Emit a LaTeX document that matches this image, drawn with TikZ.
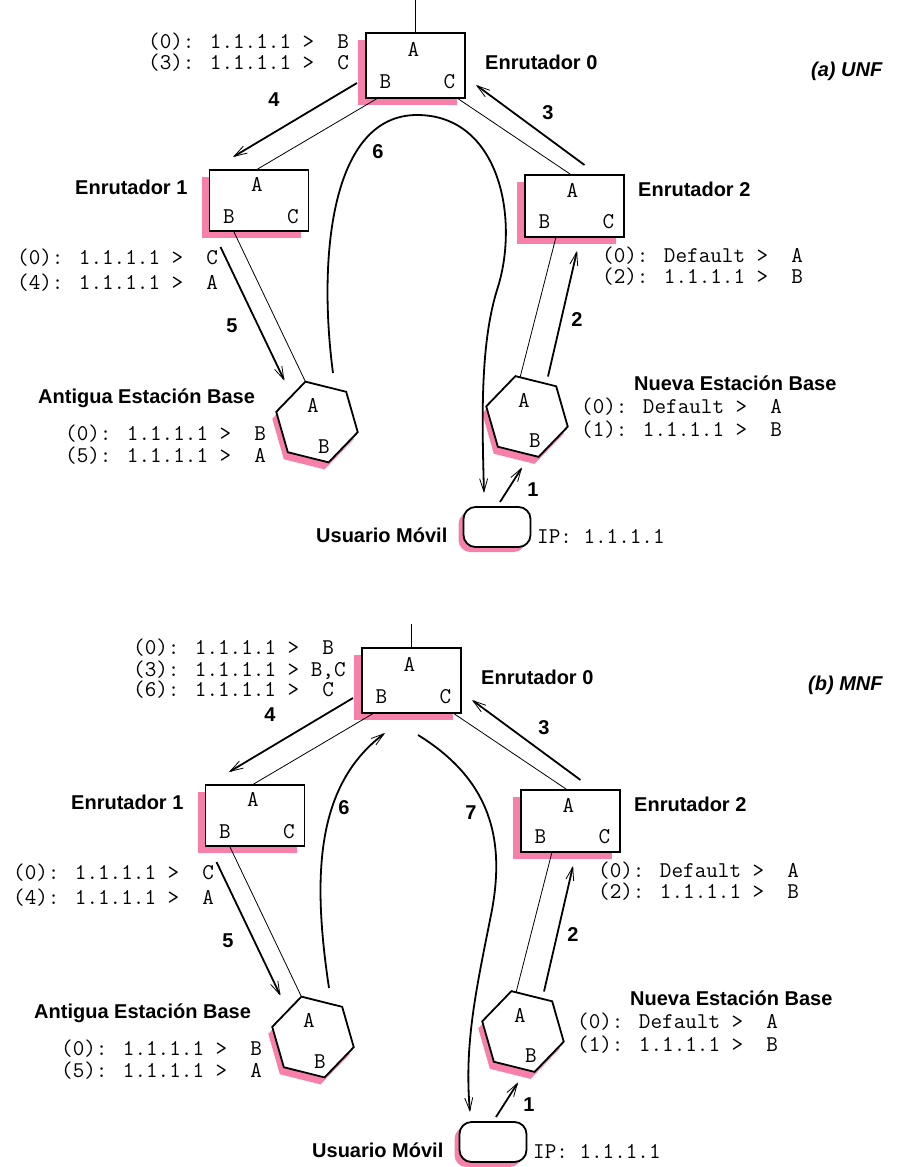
\documentclass[tikz,border=0pt]{standalone}
\usepackage{fontspec}
\usetikzlibrary{calc,shapes.geometric,arrows.meta}
\newfontfamily\labelfont{Liberation Sans}
\definecolor{shadowpink}{RGB}{246,128,170}

\tikzset{
  router/.style={draw, line width=1.8pt, fill=white, minimum width=99pt,
    minimum height=63pt, inner sep=0pt, outer sep=0pt,
    preaction={fill=shadowpink, transform canvas={xshift=-8pt, yshift=-7pt}}},
  station/.style={regular polygon, regular polygon sides=6,
    shape border rotate=-14, draw, line width=1.8pt, fill=white,
    minimum size=84pt, inner sep=0pt, outer sep=0pt,
    preaction={fill=shadowpink, transform canvas={xshift=-4pt, yshift=-7pt}}},
  mobile/.style={draw, line width=1.8pt, fill=white, rounded corners=12pt,
    minimum width=67pt, minimum height=40pt, inner sep=0pt, outer sep=0pt,
    preaction={fill=shadowpink, transform canvas={xshift=-5pt, yshift=-5pt}}},
  portlbl/.style={font=\ttfamily\fontsize{22.5pt}{25pt}\selectfont, inner sep=0pt},
  rtable/.style={font=\ttfamily\fontsize{22.5pt}{25pt}\selectfont, anchor=west, inner sep=0pt},
  tag/.style={font=\labelfont\bfseries\fontsize{20pt}{24pt}\selectfont, anchor=west, inner sep=0pt},
  paneltitle/.style={font=\labelfont\bfseries\itshape\fontsize{20pt}{24pt}\selectfont, anchor=west, inner sep=0pt},
  stepnum/.style={font=\labelfont\bfseries\fontsize{20pt}{24pt}\selectfont, inner sep=0pt},
  thinlink/.style={line width=0.8pt},
  flowarrow/.style={line width=1.8pt, -{Straight Barb[length=13pt, width=8pt, line width=0.8pt]}},
}

% Routers, base stations, mobile user and the links shared by both scenarios
\newcommand\networkpanel{%
  \node[router, minimum height=65pt] (r0) at (415.5,65.5) {};
  \node[router, minimum height=61pt] (r1) at (259,200.5) {};
  \node[router, minimum height=62pt] (r2) at (574.5,206) {};
  \foreach \rt in {r0,r1,r2} {
    \node[portlbl] (\rt a) at ($(\rt)+(-2,-16)$) {A};
    \node[portlbl] (\rt b) at ($(\rt)+(-30,16)$) {B};
    \node[portlbl] (\rt c) at ($(\rt)+(34,16)$) {C};
  }
  \node[station] (obs) at (317,422) {};
  \node[portlbl] (obsa) at ($(obs)+(-4,-17)$) {A};
  \node[portlbl] (obsb) at ($(obs)+(7,25)$) {B};
  \node[station] (nbs) at (527,416.5) {};
  \node[portlbl] (nbsa) at ($(nbs)+(-3,-16)$) {A};
  \node[portlbl] (nbsb) at ($(nbs)+(8,24)$) {B};
  \node[mobile] (mu) at (497,527) {};
  % names
  \node[tag] (r0name) at (485,62) {Enrutador 0};
  \node[tag] (r1name) at (75,187) {Enrutador 1};
  \node[tag] (r2name) at (638,189) {Enrutador 2};
  \node[tag] (obsname) at (38,398) {Antigua Estación Base};
  \node[tag] (nbsname) at (634,383) {Nueva Estación Base};
  \node[tag] (muname) at (316,535) {Usuario Móvil};
  % forwarding tables
  \node[rtable] (r1t0) at (17,258) {(0): 1.1.1.1 >~~C};
  \node[rtable] (r1t4) at (17,283) {(4): 1.1.1.1 >~~A};
  \node[rtable] (r2t0) at (602,256) {(0): Default >~~A};
  \node[rtable] (r2t2) at (602,277) {(2): 1.1.1.1 >~~B};
  \node[rtable] (obst0) at (65,434) {(0): 1.1.1.1 >~~B};
  \node[rtable] (obst5) at (65,456) {(5): 1.1.1.1 >~~A};
  \node[rtable] (nbst0) at (581,407) {(0): Default >~~A};
  \node[rtable] (nbst1) at (581,430) {(1): 1.1.1.1 >~~B};
  \node[rtable] (muip) at (537,536) {IP: 1.1.1.1};
  % wired links
  \draw[thinlink] ($(r0.south west)+(12,0)$) -- ($(r1.north)+(-3,0)$);
  \draw[thinlink] ($(r0.south east)+(-8,0)$) -- ($(r2.north)+(-3,0)$);
  \draw[thinlink] ($(r1.south west)+(24,0)$) -- (obs.106);
  \draw[thinlink] ($(r2.south west)+(31,0)$) -- (nbs.100);
  % signalling steps
  \draw[flowarrow] ($(mu.north)+(3,-5)$) -- ($(nbs)+(-5,51)$);
  \draw[flowarrow] ($(nbs)+(21,-40)$) -- ($(r2.south east)+(-47,14)$);
  \draw[flowarrow] ($(r2.north)+(10,-10)$) -- ($(r0.south east)+(11,-13)$);
  \draw[flowarrow] ($(r0.south west)+(-9,-15)$) -- ($(r1.north)+(-26,-13)$);
  \draw[flowarrow] ($(r1.south west)+(11,16)$) -- ($(obs.106)+(-21,-1)$);
  \node[stepnum] (s1) at (533,490) {1};
  \node[stepnum] (s2) at (577,320) {2};
  \node[stepnum] (s3) at (548,113) {3};
  \node[stepnum] (s4) at (274,100) {4};
  \node[stepnum] (s5) at (232,326) {5};
}

\begin{document}
\begin{tikzpicture}[x=1pt, y=-1pt]
  \fill[white] (0,0) rectangle (907,1167);
  \useasboundingbox (0,0) rectangle (907,1167);

  % (a) UNF
  \begin{scope}[name prefix=a-]
    \networkpanel
    \coordinate (uplink) at ($(r0.north)+(0,-33)$);
    \draw[thinlink] (r0.north) -- (uplink);
    \node[paneltitle] (title) at (811,71) {(a) UNF};
    \node[rtable] (r0t0) at (148,42) {(0): 1.1.1.1 >~~B};
    \node[rtable] (r0t3) at (148,63) {(3): 1.1.1.1 >~~C};
    \draw[flowarrow] ($(obs)+(16,-49)$) .. controls (318,260) and (330,115) .. (417,115)
      .. controls (500,115) and (520,220) .. (497,290)
      .. controls (480,345) and (482,420) .. ($(mu.north)+(-13,-14)$);
    \node[stepnum] (s6) at (378,152) {6};
  \end{scope}

  % (b) MNF
  \begin{scope}[shift={(-4,615)}, name prefix=b-]
    \networkpanel
    \coordinate (uplink) at ($(r0.north)+(0,-24)$);
    \draw[thinlink] (r0.north) -- (uplink);
    \node[paneltitle] (title) at (812,70) {(b) MNF};
    \node[rtable] (r0t0) at (137,33) {(0): 1.1.1.1 >~~B};
    \node[rtable] (r0t3) at (137,55) {(3): 1.1.1.1 > B,C};
    \node[rtable] (r0t6) at (137,75) {(6): 1.1.1.1 >~~C};
    \draw[flowarrow] ($(obs)+(16,-49)$) .. controls (316,260) and (320,170) .. ($(r0.south west)+(23,20)$);
    \draw[flowarrow] ($(r0.south west)+(56,22)$) .. controls (495,165) and (510,225) .. (495,300)
      .. controls (480,375) and (468,430) .. ($(mu.north)+(-23,-10)$);
    \node[stepnum] (s6) at (348,193) {6};
    \node[stepnum] (s7) at (475,198) {7};
  \end{scope}
\end{tikzpicture}
\end{document}
